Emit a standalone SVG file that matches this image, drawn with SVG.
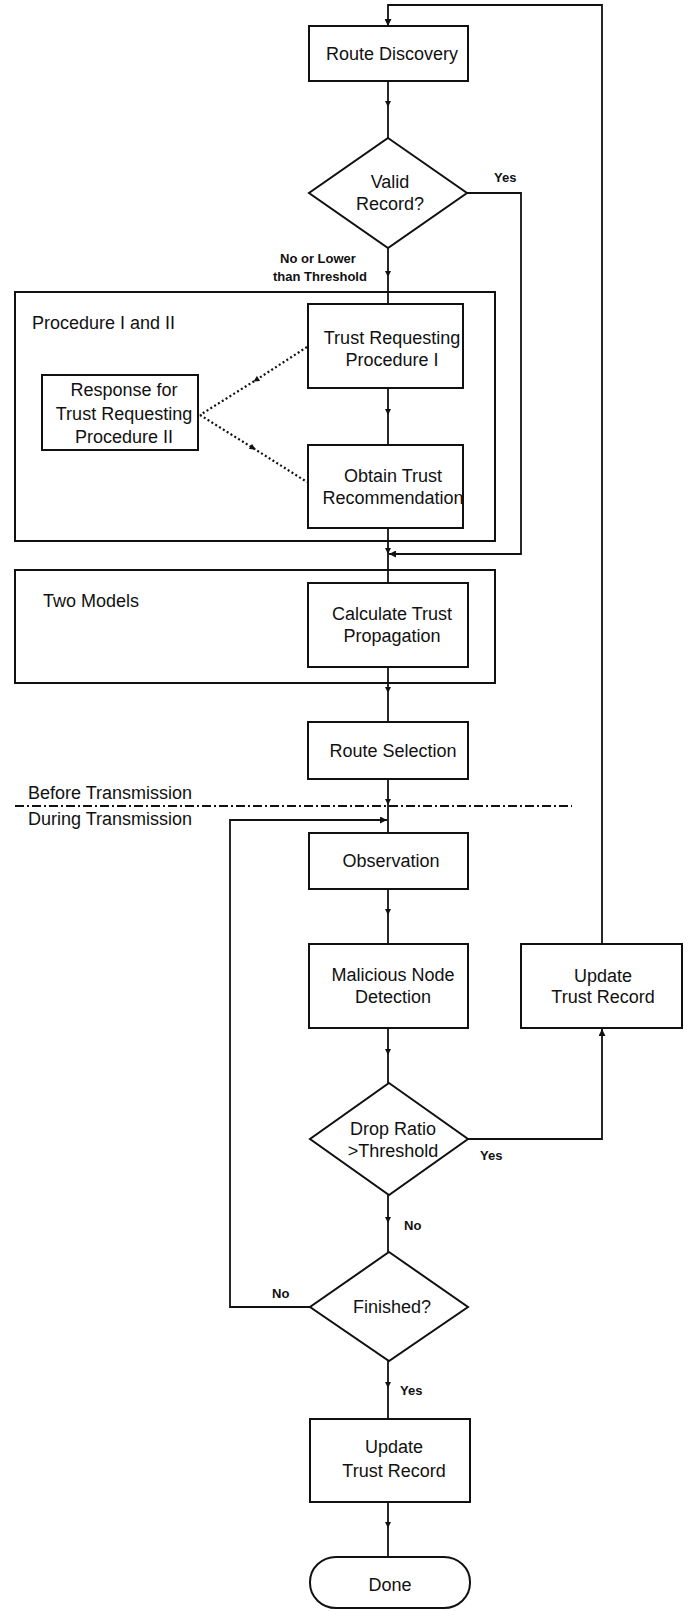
<svg xmlns="http://www.w3.org/2000/svg" width="698" height="1611" viewBox="0 0 698 1611">
<defs>
<marker id="ah" viewBox="0 0 8 8" refX="4" refY="4" markerWidth="7" markerHeight="6" markerUnits="userSpaceOnUse" orient="auto">
<path d="M0,0 L8,4 L0,8 z" fill="#111"/>
</marker>
<marker id="ahEnd" viewBox="0 0 8 8" refX="8" refY="4" markerWidth="8" markerHeight="7" markerUnits="userSpaceOnUse" orient="auto">
<path d="M0,0 L8,4 L0,8 z" fill="#111"/>
</marker>
<style>
.box{fill:#fff;stroke:#111;stroke-width:2}
.frame{fill:none;stroke:#111;stroke-width:2}
.ln{fill:none;stroke:#111;stroke-width:1.8}
.dot{fill:none;stroke:#111;stroke-width:2.2;stroke-dasharray:2 2.5}
.dashdot{fill:none;stroke:#111;stroke-width:2;stroke-dasharray:9 3 2 3}
.t{font-family:"Liberation Sans",Arial,sans-serif;font-size:18px;fill:#111;text-anchor:middle}
.tl{font-family:"Liberation Sans",Arial,sans-serif;font-size:18px;fill:#111}
.s{font-family:"Liberation Sans",Arial,sans-serif;font-size:13px;font-weight:bold;fill:#111}
</style>
</defs>

<g id="frames">
<rect id="procedure-frame" class="frame" x="15" y="292" width="480" height="249"/>
<text class="tl" x="32" y="329">Procedure I and II</text>
<rect id="models-frame" class="frame" x="15" y="570" width="480" height="113"/>
<text class="tl" x="43" y="607">Two Models</text>
<line class="dashdot" x1="15" y1="806" x2="572" y2="806"/>
<text class="tl" x="28" y="799">Before Transmission</text>
<text class="tl" x="28" y="825">During Transmission</text>
</g>

<g id="connectors">
<path class="ln" d="M388,81 L388,104 L388,138" marker-mid="url(#ah)"/>
<path class="ln" d="M388,248 L388,274 L388,304" marker-mid="url(#ah)"/>
<path class="ln" d="M388,388 L388,412 L388,445" marker-mid="url(#ah)"/>
<path class="ln" d="M388,528 L388,551 L388,583" marker-mid="url(#ah)"/>
<path class="ln" d="M388,667 L388,690 L388,722" marker-mid="url(#ah)"/>
<path class="ln" d="M388,779 L388,802 L388,833" marker-mid="url(#ah)"/>
<path class="ln" d="M388,889 L388,912 L388,944" marker-mid="url(#ah)"/>
<path class="ln" d="M388,1028 L388,1052 L388,1083" marker-mid="url(#ah)"/>
<path class="ln" d="M388,1195 L388,1220 L388,1252" marker-mid="url(#ah)"/>
<path class="ln" d="M388,1361 L388,1385 L388,1419" marker-mid="url(#ah)"/>
<path class="ln" d="M388,1502 L388,1525 L388,1557" marker-mid="url(#ah)"/>
<path class="ln" d="M467,193 L521,193 L521,554 L389,554" marker-end="url(#ahEnd)"/>
<path class="ln" d="M602,944 L602,5 L388,5 L388,26" marker-end="url(#ahEnd)"/>
<path class="ln" d="M468,1139 L602,1139 L602,1029" marker-end="url(#ahEnd)"/>
<path class="ln" d="M310,1307 L230,1307 L230,820 L387,820" marker-end="url(#ahEnd)"/>
<path class="dot" d="M307,347 L256,380 L200,415" marker-mid="url(#ah)"/>
<path class="dot" d="M200,415 L253,448 L307,482" marker-mid="url(#ah)"/>
<text class="s" x="494" y="182">Yes</text>
<text class="s" x="280" y="263">No or Lower</text>
<text class="s" x="273" y="281">than Threshold</text>
<text class="s" x="480" y="1160">Yes</text>
<text class="s" x="404" y="1230">No</text>
<text class="s" x="272" y="1298">No</text>
<text class="s" x="400" y="1395">Yes</text>
</g>

<g id="route-discovery">
<rect class="box" x="309" y="26" width="159" height="55"/>
<text class="t" x="392" y="60">Route Discovery</text>
</g>
<g id="valid-record">
<polygon class="box" points="388,138 467,193 388,248 309,193"/>
<text class="t" x="390" y="188">Valid</text>
<text class="t" x="390" y="210">Record?</text>
</g>
<g id="trust-requesting">
<rect class="box" x="308" y="304" width="155" height="84"/>
<text class="t" x="392" y="344">Trust Requesting</text>
<text class="t" x="392" y="366">Procedure I</text>
</g>
<g id="response">
<rect class="box" x="42" y="375" width="156" height="75"/>
<text class="t" x="124" y="396">Response for</text>
<text class="t" x="124" y="420">Trust Requesting</text>
<text class="t" x="124" y="443">Procedure II</text>
</g>
<g id="obtain-trust">
<rect class="box" x="308" y="445" width="155" height="83"/>
<text class="t" x="393" y="482">Obtain Trust</text>
<text class="t" x="393" y="504">Recommendation</text>
</g>
<g id="calculate-trust">
<rect class="box" x="308" y="583" width="160" height="84"/>
<text class="t" x="392" y="620">Calculate Trust</text>
<text class="t" x="392" y="642">Propagation</text>
</g>
<g id="route-selection">
<rect class="box" x="308" y="722" width="160" height="57"/>
<text class="t" x="393" y="757">Route Selection</text>
</g>
<g id="observation">
<rect class="box" x="309" y="833" width="159" height="56"/>
<text class="t" x="391" y="867">Observation</text>
</g>
<g id="malicious-detection">
<rect class="box" x="309" y="944" width="159" height="84"/>
<text class="t" x="393" y="981">Malicious Node</text>
<text class="t" x="393" y="1003">Detection</text>
</g>
<g id="update-trust-right">
<rect class="box" x="521" y="944" width="161" height="84"/>
<text class="t" x="603" y="982">Update</text>
<text class="t" x="603" y="1003">Trust Record</text>
</g>
<g id="drop-ratio">
<polygon class="box" points="389,1083 468,1139 389,1195 310,1139"/>
<text class="t" x="393" y="1135">Drop Ratio</text>
<text class="t" x="393" y="1157">&gt;Threshold</text>
</g>
<g id="finished">
<polygon class="box" points="389,1252 468,1307 389,1361 310,1307"/>
<text class="t" x="392" y="1313">Finished?</text>
</g>
<g id="update-trust-bottom">
<rect class="box" x="310" y="1419" width="160" height="83"/>
<text class="t" x="394" y="1453">Update</text>
<text class="t" x="394" y="1477">Trust Record</text>
</g>
<g id="done">
<rect class="box" x="310" y="1557" width="160" height="51" rx="26" ry="25"/>
<text class="t" x="390" y="1591">Done</text>
</g>
</svg>
